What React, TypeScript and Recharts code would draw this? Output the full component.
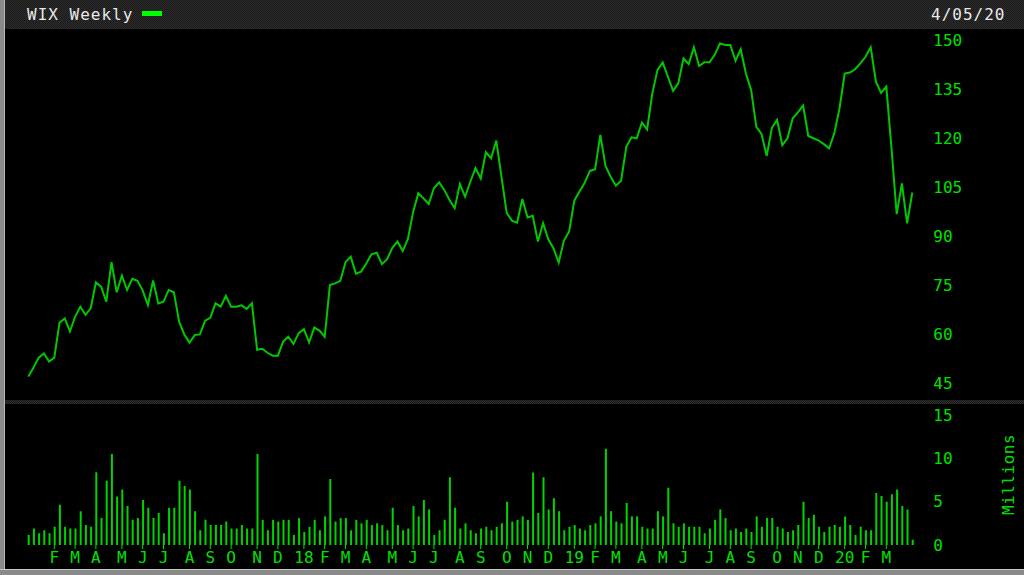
import { LineChart, Line, BarChart, Bar, XAxis, YAxis } from 'recharts'

// weekly closes, Jan 2017 .. Apr 2020
const closes = [
  47.2, 50.0, 53.0, 54.3, 51.8, 53.0, 63.7, 65.0, 61.0, 65.5,
  68.6, 66.1, 68.1, 76.0, 74.7, 70.1, 82.2, 73.0, 78.1, 73.7,
  77.1, 76.5, 73.5, 69.1, 76.6, 69.6, 70.1, 73.7, 73.0, 64.0,
  60.1, 57.6, 59.9, 60.1, 64.3, 65.2, 69.6, 68.6, 71.9, 68.6,
  68.6, 69.0, 67.9, 69.6, 55.4, 55.7, 54.5, 53.6, 53.6, 57.9,
  59.4, 57.2, 60.5, 61.7, 57.7, 62.2, 61.3, 59.4, 75.2, 75.7,
  76.5, 82.2, 83.9, 78.7, 79.3, 81.8, 84.6, 85.1, 81.6, 83.1,
  86.6, 88.5, 85.6, 89.3, 97.5, 103.3, 101.7, 100.0, 104.8, 106.6,
  104.3, 101.2, 98.7, 106.1, 102.2, 106.8, 111.0, 107.8, 115.8, 114.0,
  119.4, 108.3, 97.3, 94.9, 94.3, 101.5, 95.9, 96.4, 88.5, 94.1,
  89.2, 86.4, 82.1, 88.8, 91.5, 101.0, 103.8, 106.5, 110.1, 110.6,
  121.1, 111.6, 108.3, 105.6, 107.1, 117.5, 120.4, 120.1, 124.9, 122.8,
  133.8, 141.0, 143.3, 138.9, 134.6, 136.9, 144.5, 142.8, 147.9, 142.2,
  143.3, 143.3, 145.6, 149.1, 148.6, 148.6, 143.8, 147.3, 139.9, 134.9,
  123.6, 121.4, 114.7, 123.3, 125.7, 118.0, 120.1, 126.2, 128.0, 130.1,
  120.8, 120.1, 119.4, 118.3, 117.0, 121.6, 129.2, 139.9, 140.2, 141.2,
  143.0, 145.0, 147.9, 137.4, 134.0, 135.9, 117.0, 96.9, 106.3, 94.1,
  103.5,
]

// weekly volume, millions
const volumes = [
  1.15, 1.9, 1.35, 1.7, 1.35, 2.1, 4.65, 2.1, 1.9, 1.9,
  3.9, 2.3, 2.1, 8.4, 3.1, 7.4, 10.5, 5.6, 6.4, 4.5,
  2.9, 3.1, 5.2, 4.3, 3.1, 3.7, 1.35, 4.3, 4.3, 7.4,
  6.8, 6.4, 3.9, 1.7, 2.9, 2.3, 2.3, 2.3, 2.7, 1.9,
  1.9, 2.3, 1.9, 1.9, 10.5, 2.9, 1.7, 2.9, 2.7, 2.9,
  2.9, 1.15, 3.1, 1.5, 2.1, 2.9, 1.7, 3.3, 7.6, 2.7,
  3.1, 3.1, 1.7, 2.9, 2.5, 2.9, 2.3, 2.5, 2.3, 1.7,
  4.3, 2.3, 1.7, 1.9, 4.5, 3.3, 5.2, 4.1, 1.15, 1.7,
  2.9, 7.8, 4.3, 1.9, 2.5, 1.7, 1.35, 1.9, 2.1, 1.7,
  2.1, 2.5, 5.0, 2.7, 2.9, 3.3, 2.9, 8.35, 3.7, 7.8,
  4.1, 5.4, 3.9, 1.7, 2.1, 2.3, 1.9, 1.7, 2.3, 2.5,
  3.3, 11.1, 3.9, 2.7, 2.5, 4.85, 3.3, 3.3, 2.1, 1.9,
  1.9, 3.9, 3.3, 6.6, 2.5, 2.1, 2.5, 2.1, 2.1, 2.1,
  1.35, 1.9, 2.9, 4.1, 3.1, 1.7, 1.9, 1.5, 1.9, 1.5,
  3.3, 2.1, 3.1, 3.1, 2.1, 1.9, 1.5, 1.7, 2.3, 5.0,
  3.1, 3.5, 2.1, 1.5, 2.1, 2.3, 2.1, 3.3, 2.3, 1.15,
  2.1, 1.7, 1.7, 6.0, 5.65, 5.0, 5.85, 6.4, 4.5, 4.1,
  0.6,
]

const monthTicks = [
  5, 9, 13, 18, 22, 26, 31, 35, 39, 44, 48,
  53, 57, 61, 65, 70, 74, 78, 83, 87, 92, 96, 100,
  105, 109, 113, 118, 122, 126, 131, 135, 139, 144, 148, 152,
  157, 161, 165,
]
const monthLabels = [
  'F', 'M', 'A', 'M', 'J', 'J', 'A', 'S', 'O', 'N', 'D',
  '18', 'F', 'M', 'A', 'M', 'J', 'J', 'A', 'S', 'O', 'N', 'D',
  '19', 'F', 'M', 'A', 'M', 'J', 'J', 'A', 'S', 'O', 'N', 'D',
  '20', 'F', 'M',
]
const priceTicks = [45, 60, 75, 90, 105, 120, 135, 150]
const volumeTicks = [0, 5, 10, 15]

const FONT = '"DejaVu Sans Mono", monospace'
const GREEN_TEXT = '#00e000'
const GREEN_LINE = '#00c800'
const GREEN_BAR = '#00d400'
const TEXTURE = 'repeating-conic-gradient(#2c2c2c 0 25%, #1a1a1a 0 50%) 0 0 / 2px 2px'

const xDomain: [number, number] = [-4.5, 172.5]

const data = closes.map((close, i) => ({ i, close, volume: volumes[i] }))

export default function App() {
  const tickStyle = { fill: GREEN_TEXT, fontSize: 16, fontFamily: FONT }

  return (
    <div style={{ position: 'fixed', left: 0, top: 0, width: 1024, height: 575, background: '#000', overflow: 'hidden' }}>
      {/* header bar */}
      <div style={{ position: 'absolute', left: 0, top: 0, width: 1024, height: 29, background: TEXTURE }} />
      <div style={{ position: 'absolute', left: 27, top: 5, fontFamily: FONT, fontSize: 16, letterSpacing: 1, color: '#e8e8e8' }}>
        WIX Weekly
      </div>
      <div style={{ position: 'absolute', left: 142, top: 11, width: 20, height: 5, background: '#00ff00' }} />
      <div style={{ position: 'absolute', left: 931, top: 5, fontFamily: FONT, fontSize: 16, letterSpacing: 1, color: '#e8e8e8' }}>
        4/05/20
      </div>

      {/* price panel */}
      <div style={{ position: 'absolute', left: 0, top: 30 }}>
        <LineChart width={1024} height={370} data={data} margin={{ top: 0, right: 38.7, bottom: 0, left: 4.9 }}>
          <XAxis dataKey="i" type="number" domain={xDomain} allowDataOverflow hide />
          <YAxis
            orientation="right"
            width={60}
            domain={[40.05, 153.2]}
            ticks={priceTicks}
            allowDataOverflow
            axisLine={false}
            tickLine={false}
            tickSize={0}
            tickMargin={8}
            tick={tickStyle}
          />
          <Line type="linear" dataKey="close" stroke={GREEN_LINE} strokeWidth={2} dot={false} isAnimationActive={false} />
        </LineChart>
      </div>

      {/* separator */}
      <div style={{ position: 'absolute', left: 0, top: 400, width: 1024, height: 4, background: TEXTURE }} />

      {/* volume panel */}
      <div style={{ position: 'absolute', left: 0, top: 404 }}>
        <BarChart width={1024} height={165} data={data} margin={{ top: 0, right: 38.7, bottom: 0, left: 4.9 }} barSize={2}>
          <XAxis
            dataKey="i"
            type="number"
            domain={xDomain}
            allowDataOverflow
            ticks={monthTicks}
            interval={0}
            tickFormatter={(v: number) => monthLabels[monthTicks.indexOf(v)] ?? ''}
            axisLine={false}
            tickSize={4}
            tickMargin={3}
            tickLine={{ stroke: GREEN_TEXT }}
            tick={tickStyle}
            height={24}
          />
          <YAxis
            orientation="right"
            width={60}
            domain={[0, 16.26]}
            ticks={volumeTicks}
            allowDataOverflow
            axisLine={false}
            tickLine={false}
            tickSize={0}
            tickMargin={8}
            tick={tickStyle}
            label={{
              content: (props: any) => {
                const vb = props.viewBox ?? { x: 925, y: 0, width: 60, height: 141 }
                const cx = vb.x + 83
                const cy = vb.y + vb.height / 2
                return (
                  <text
                    x={cx}
                    y={cy}
                    transform={`rotate(-90 ${cx} ${cy})`}
                    textAnchor="middle"
                    dominantBaseline="central"
                    fill={GREEN_TEXT}
                    fontSize={16}
                    fontFamily={FONT}
                    letterSpacing={0.5}
                  >
                    Millions
                  </text>
                )
              },
            }}
          />
          <Bar dataKey="volume" fill={GREEN_BAR} isAnimationActive={false} />
        </BarChart>
      </div>

      {/* frame */}
      <div style={{ position: 'absolute', left: 0, top: 0, width: 4, height: 575, background: '#8a8a8a', borderRight: '1px solid #b8b8b8' }} />
      <div style={{ position: 'absolute', left: 0, top: 569, width: 1024, height: 6, background: '#8a8a8a', borderTop: '1px solid #c8c8c8', boxSizing: 'border-box' }} />
    </div>
  )
}
